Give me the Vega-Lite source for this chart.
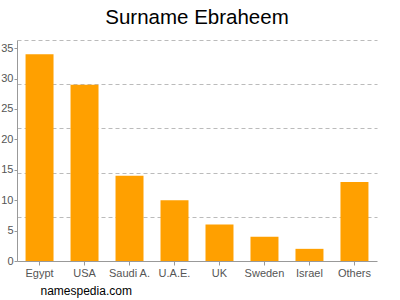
{
  "$schema": "https://vega.github.io/schema/vega-lite/v6.json",
  "autosize": "none",
  "width": 360,
  "height": 221,
  "padding": {"left": 17, "top": 40, "right": 23, "bottom": 39},
  "background": "white",
  "title": {"text": "Surname Ebraheem", "font": "Liberation Sans", "fontSize": 20.5, "fontWeight": "normal", "color": "#000", "anchor": "middle", "offset": 12},
  "config": {"view": {"stroke": null}},
  "data": {"values": [
    {"country": "Egypt", "count": 34},
    {"country": "USA", "count": 29},
    {"country": "Saudi A.", "count": 14},
    {"country": "U.A.E.", "count": 10},
    {"country": "UK", "count": 6},
    {"country": "Sweden", "count": 4},
    {"country": "Israel", "count": 2},
    {"country": "Others", "count": 13}
  ]},
  "layer": [
    {
      "mark": {"type": "rule", "opacity": 0},
      "encoding": {
        "y": {"field": "count", "type": "quantitative", "scale": {"domain": [0, 36.34], "nice": false},
          "axis": {"orient": "left", "values": [7.27, 14.54, 21.8, 29.07, 36.34], "labels": false, "ticks": false, "domain": false, "grid": true, "gridDash": [4, 3], "gridColor": "#bbbbbb", "title": null}}
      }
    },
    {
      "mark": {"type": "bar", "color": "#ffa000"},
      "encoding": {
        "x": {"field": "country", "type": "nominal", "sort": null,
          "scale": {"paddingInner": 0.378, "paddingOuter": 0.19},
          "axis": {"labelAngle": 0, "labelFont": "Liberation Sans", "labelFontSize": 11, "labelColor": "#555", "domainColor": "#999", "tickColor": "#999", "tickSize": 4, "labelPadding": 2,
            "title": "namespedia.com", "titleFont": "Liberation Sans", "titleFontSize": 12, "titleFontWeight": "normal", "titleColor": "#000", "titleAnchor": "start", "titleAlign": "left", "titleBaseline": "middle", "titleX": 23, "titleY": 29}},
        "y": {"field": "count", "type": "quantitative", "scale": {"domain": [0, 36.34], "nice": false},
          "axis": {"orient": "left", "values": [0, 5, 10, 15, 20, 25, 30, 35], "grid": false, "labelFont": "Liberation Sans", "labelFontSize": 11, "labelColor": "#555", "domainColor": "#999", "tickColor": "#999", "tickSize": 3, "labelPadding": 1, "title": null}}
      }
    }
  ],
  "resolve": {"axis": {"y": "independent"}}
}
